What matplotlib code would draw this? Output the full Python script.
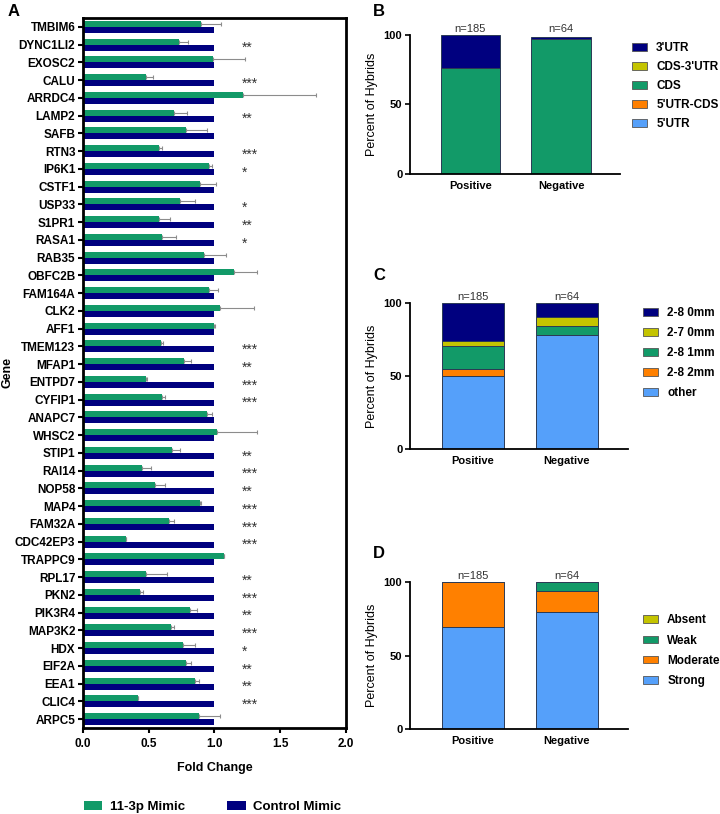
import numpy as np
import matplotlib
matplotlib.use("Agg")
import matplotlib.pyplot as plt
from matplotlib.patches import Patch

plt.rcParams['font.family'] = ['Liberation Sans', 'DejaVu Sans']

# panel A data
genes = ["TMBIM6", "DYNC1LI2", "EXOSC2", "CALU", "ARRDC4", "LAMP2", "SAFB", "RTN3", "IP6K1", "CSTF1",
         "USP33", "S1PR1", "RASA1", "RAB35", "OBFC2B", "FAM164A", "CLK2", "AFF1", "TMEM123", "MFAP1",
         "ENTPD7", "CYFIP1", "ANAPC7", "WHSC2", "STIP1", "RAI14", "NOP58", "MAP4", "FAM32A", "CDC42EP3",
         "TRAPPC9", "RPL17", "PKN2", "PIK3R4", "MAP3K2", "HDX", "EIF2A", "EEA1", "CLIC4", "ARPC5"]
mimic = [0.90, 0.73, 0.99, 0.48, 1.22, 0.69, 0.78, 0.58, 0.96, 0.89,
         0.74, 0.58, 0.60, 0.92, 1.15, 0.96, 1.04, 0.995, 0.59, 0.77,
         0.48, 0.60, 0.94, 1.02, 0.675, 0.45, 0.55, 0.89, 0.655, 0.33,
         1.07, 0.48, 0.43, 0.81, 0.67, 0.76, 0.78, 0.85, 0.42, 0.88]
mimic_err = [0.15, 0.07, 0.24, 0.05, 0.55, 0.10, 0.16, 0.02, 0.02, 0.12,
             0.11, 0.08, 0.11, 0.17, 0.17, 0.07, 0.26, 0.01, 0.02, 0.05,
             0.01, 0.02, 0.04, 0.30, 0.06, 0.07, 0.07, 0.01, 0.035, 0.0,
             0.0, 0.16, 0.03, 0.06, 0.02, 0.09, 0.04, 0.03, 0.0, 0.16]
control = [1.0] * len(genes)
stars = ["", "**", "", "***", "", "**", "", "***", "*", "",
         "*", "**", "*", "", "", "", "", "", "***", "**",
         "***", "***", "", "", "**", "***", "**", "***", "***", "***",
         "", "**", "***", "**", "***", "*", "**", "**", "***", ""]

# panels B-D data
groups = ["Positive", "Negative"]
group_n = ["n=185", "n=64"]
region_names = ["5'UTR", "5'UTR-CDS", "CDS", "CDS-3'UTR", "3'UTR"]
region_vals = [[0, 0], [0, 0], [76.2, 97.0], [0, 0], [23.8, 1.6]]
seed_names = ["other", "2-8 2mm", "2-8 1mm", "2-7 0mm", "2-8 0mm"]
seed_vals = [[50.3, 78.0], [4.3, 0], [15.7, 6.2], [3.4, 6.0], [26.3, 9.8]]
struct_names = ["Strong", "Moderate", "Weak", "Absent"]
struct_vals = [[69.3, 79.8], [30.7, 14.1], [0, 6.1], [0, 0]]

green = "#129a68"
navy = "#00007f"
lblue = "#55a0fa"
orange = "#ff8000"
olive = "#c4c400"
stack_colors = [lblue, orange, green, olive, navy]

fig = plt.figure(figsize=(7.2, 8.14), dpi=100)

# ---- panel A
axA = fig.add_axes([83/720, 1-728/814, 263/720, 710/814])
y = np.arange(len(genes))
h = 0.34
axA.barh(y - h/2, mimic, height=h, color=green)
axA.barh(y + h/2, control, height=h, color=navy)
axA.errorbar(mimic, y - h/2, xerr=[np.zeros(len(genes)), mimic_err], fmt='none',
             ecolor='#8c8c8c', elinewidth=0.8, capsize=1.5, capthick=0.8)
for i, s in enumerate(stars):
    if s:
        axA.text(1.205, y[i] + 0.2, s, ha='left', va='center', fontsize=10, color='#333333')
axA.set_ylim(len(genes) - 0.5, -0.5)
axA.set_xlim(0, 2)
axA.set_yticks(y)
axA.set_yticklabels(genes, fontsize=8.5, fontweight='bold')
axA.set_xticks([0, 0.5, 1.0, 1.5, 2.0])
axA.set_xticklabels(["0.0", "0.5", "1.0", "1.5", "2.0"], fontsize=8.5, fontweight='bold')
axA.tick_params(axis='both', width=1.5, length=3.5, pad=2)
axA.tick_params(axis='x', pad=4)
for sp in axA.spines.values():
    sp.set_linewidth(2)
axA.set_xlabel("Fold Change", fontsize=9, fontweight='bold', labelpad=8)
axA.set_ylabel("Gene", fontsize=9, fontweight='bold', labelpad=1)
fig.text(8/720, 1-12/814, "A", fontsize=12, fontweight='bold', va='center')
fig.legend(handles=[Patch(facecolor=green, label="11-3p Mimic"), Patch(facecolor=navy, label="Control Mimic")],
           loc='center left', bbox_to_anchor=(84/720, 1-807/814), ncol=2, frameon=False,
           prop={'size': 9.5, 'weight': 'bold'}, handlelength=1.4, handleheight=0.75,
           handletextpad=0.55, columnspacing=3.2, borderaxespad=0, borderpad=0)


def stacked(ax, names, vals, label, lab_xy, leg_anchor, spacing):
    x = np.arange(len(groups))
    bottom = np.zeros(len(groups))
    handles = []
    for k, nm in enumerate(names):
        v = np.array(vals[k], dtype=float)
        ax.bar(x, v, width=0.66, bottom=bottom, color=stack_colors[k],
               edgecolor='#2b3a55', linewidth=0.7)
        handles.append(Patch(facecolor=stack_colors[k], edgecolor='#555555', linewidth=0.6, label=nm))
        bottom += v
    for i in range(len(groups)):
        ax.text(x[i], 100.5, group_n[i], ha='center', va='bottom', fontsize=8, color='#333333')
    ax.set_xlim(-0.667, 1.65)
    ax.set_ylim(0, 100)
    ax.set_yticks([0, 50, 100])
    ax.set_yticklabels(["0", "50", "100"], fontsize=8, fontweight='bold')
    ax.set_xticks(x)
    ax.set_xticklabels(groups, fontsize=8, fontweight='bold')
    ax.tick_params(axis='y', width=1.2, length=3.5, pad=2)
    ax.tick_params(axis='x', length=0, pad=5)
    ax.spines['top'].set_visible(False)
    ax.spines['right'].set_visible(False)
    ax.spines['left'].set_linewidth(1.3)
    ax.spines['bottom'].set_linewidth(1.3)
    ax.set_ylabel("Percent of Hybrids", fontsize=9, labelpad=4)
    fig.text(lab_xy[0], lab_xy[1], label, fontsize=12, fontweight='bold', va='center')
    ax.legend(handles=handles[::-1], loc='upper left', bbox_to_anchor=leg_anchor, frameon=False,
              prop={'size': 8.5, 'weight': 'bold'}, handlelength=1.25, handleheight=0.6,
              labelspacing=spacing, borderaxespad=0, borderpad=0, handletextpad=0.8)


axB = fig.add_axes([410/720, 1-174/814, 210/720, 139/814])
stacked(axB, region_names, region_vals, "B", (373/720, 1-12/814), (222/210, 0.95), 0.6)

axC = fig.add_axes([410/720, 1-449/814, 218/720, 146/814])
stacked(axC, seed_names, seed_vals, "C", (373/720, 1-275/814), (233/218, 0.97), 0.67)

axD = fig.add_axes([410/720, 1-729/814, 218/720, 147/814])
stacked(axD, struct_names, struct_vals, "D", (373/720, 1-553/814), (233/218, 0.78), 0.7)

fig.savefig("out.png", dpi=100)
